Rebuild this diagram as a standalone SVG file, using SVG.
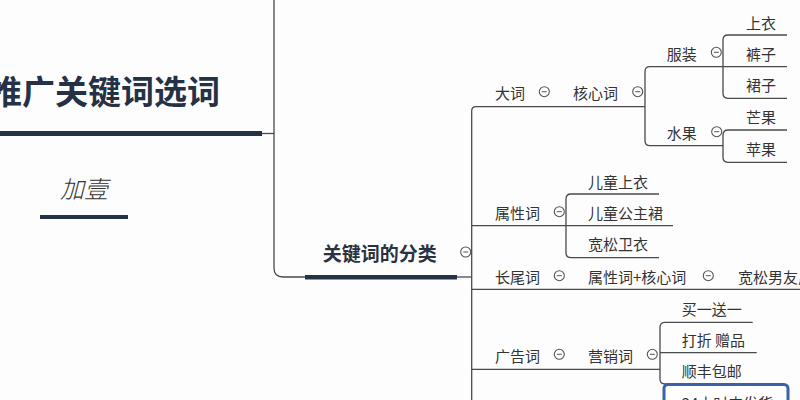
<svg xmlns="http://www.w3.org/2000/svg" width="800" height="400" viewBox="0 0 800 400">
<defs>
<style>
.t{font-family:"Noto Sans CJK SC","Noto Sans",sans-serif;font-size:15px;fill:#333}
.ln{fill:none;stroke:#4a4a4a;stroke-width:1.3}
.bar{fill:#253246}
.tg circle{fill:#fff;stroke:#555;stroke-width:1.1}
.tg line{stroke:#555;stroke-width:1}
</style>
<g id="tog" class="tg"><circle cx="0" cy="0" r="5"/><line x1="-2.5" y1="0" x2="2.5" y2="0"/></g>
</defs>
<rect width="800" height="400" fill="#fdfdfd"/>
<g id="connectors">
<path class="ln" d="M274,0 V268 Q274,277 283,277 H305"/>
<path class="ln" d="M262,133.5 H274"/>
<path class="ln" d="M456,277 H471.7"/>
<path class="ln" d="M471.7,400 V111 Q471.7,106.7 476,106.7 H645"/>
<path class="ln" d="M787,66.7 H650 Q645,66.7 645,71.7 V140.7 Q645,145.7 650,145.7 H723"/>
<path class="ln" d="M787,35 H728 Q723,35 723,40 V93.3 Q723,98.3 728,98.3 H787"/>
<path class="ln" d="M787,130 H728 Q723,130 723,135 V157.3 Q723,162.3 728,162.3 H787"/>
<path class="ln" d="M471.7,225.7 H673"/>
<path class="ln" d="M659,194 H571 Q566,194 566,199 V252.7 Q566,257.7 571,257.7 H659"/>
<path class="ln" d="M471.7,289.3 H800"/>
<path class="ln" d="M471.7,369.3 H660"/>
<path class="ln" d="M752.7,322.3 H665 Q660,322.3 660,327.3 V379 Q660,384 665,384 H750"/>
<path class="ln" d="M660,352.7 H756.7"/>
</g>
<g id="root">
<text x="-11" y="104" style="font-family:'Noto Sans CJK SC','Noto Sans',sans-serif;font-size:33px;font-weight:bold;fill:#253246">推广关键词选词</text>
<rect class="bar" x="0" y="131" width="262" height="5"/>
</g>
<g id="author">
<text x="60" y="198" style="font-family:'Noto Sans CJK SC','Noto Sans',sans-serif;font-size:24px;font-style:italic;font-weight:300;fill:#333">加壹</text>
<rect class="bar" x="40" y="215" width="88" height="4"/>
</g>
<g id="n-fenlei">
<text x="322.7" y="261" style="font-family:'Noto Sans CJK SC','Noto Sans',sans-serif;font-size:19px;font-weight:bold;fill:#2a3140">关键词的分类</text>
<rect class="bar" x="305" y="275" width="152" height="4.5"/>
<use href="#tog" x="465.7" y="252"/>
</g>
<g id="n-daci"><text class="t" x="495" y="99">大词</text><use href="#tog" x="544.3" y="91.7"/></g>
<g id="n-hexinci"><text class="t" x="573" y="99">核心词</text><use href="#tog" x="637.7" y="91.7"/></g>
<g id="n-fuzhuang"><text class="t" x="666.7" y="60">服装</text><use href="#tog" x="716.3" y="52.3"/></g>
<g id="n-shuiguo"><text class="t" x="666.7" y="139">水果</text><use href="#tog" x="716.7" y="131.7"/></g>
<g id="n-shangyi"><text class="t" x="746" y="29">上衣</text></g>
<g id="n-kuzi"><text class="t" x="746" y="60">裤子</text></g>
<g id="n-qunzi"><text class="t" x="746" y="91">裙子</text></g>
<g id="n-mangguo"><text class="t" x="746" y="123">芒果</text></g>
<g id="n-pingguo"><text class="t" x="746" y="155">苹果</text></g>
<g id="n-shuxingci"><text class="t" x="495" y="219">属性词</text><use href="#tog" x="559.3" y="211.7"/></g>
<g id="n-ertongshangyi"><text class="t" x="588" y="188">儿童上衣</text></g>
<g id="n-ertonggongzhuqun"><text class="t" x="588" y="219">儿童公主裙</text></g>
<g id="n-kuansongweiyi"><text class="t" x="588" y="250">宽松卫衣</text></g>
<g id="n-changweici"><text class="t" x="495" y="283">长尾词</text><use href="#tog" x="559.3" y="275.7"/></g>
<g id="n-shuxing-hexin"><text class="t" x="588" y="283">属性词+核心词</text><use href="#tog" x="708.3" y="275.7"/></g>
<g id="n-kuansongnanyou"><text class="t" x="738" y="283">宽松男友风卫衣</text></g>
<g id="n-guanggaoci"><text class="t" x="495" y="362">广告词</text><use href="#tog" x="559.3" y="354.3"/></g>
<g id="n-yingxiaoci"><text class="t" x="588" y="362">营销词</text><use href="#tog" x="652.3" y="354.3"/></g>
<g id="n-maiyisongyi"><text class="t" x="681.7" y="315">买一送一</text></g>
<g id="n-dazhe"><text class="t" x="681.7" y="346">打折 赠品</text></g>
<g id="n-shunfeng"><text class="t" x="681.7" y="377">顺丰包邮</text></g>
<g id="n-24h">
<rect x="664" y="384.5" width="124" height="40" rx="4" fill="#fff" stroke="#3a62a8" stroke-width="3"/>
<text class="t" x="681.7" y="409">24小时内发货</text>
</g>
</svg>
